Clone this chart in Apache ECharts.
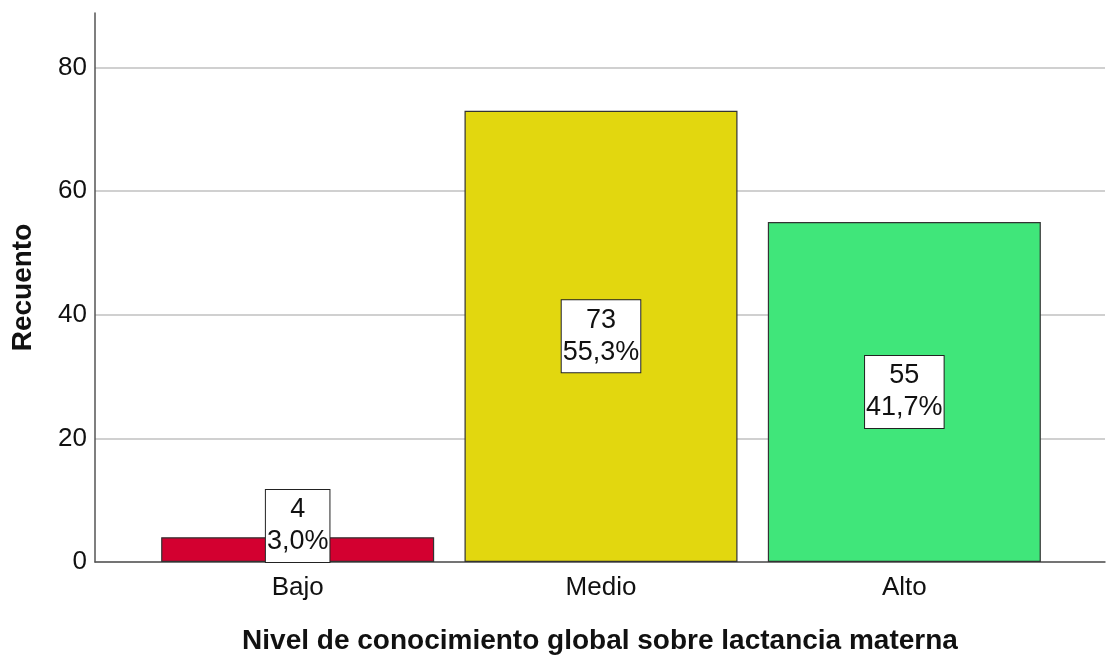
<!DOCTYPE html>
<html>
<head>
<meta charset="utf-8">
<script src="https://cdn.jsdelivr.net/npm/echarts@6/dist/echarts.min.js"></script>
<style>
  html, body { margin: 0; padding: 0; background: #ffffff; }
  #chart { width: 1108px; height: 659px; }
</style>
</head>
<body>
<div id="chart"></div>
<script>
// Nivel de conocimiento global sobre lactancia materna: frequency counts
const categories = ['Bajo', 'Medio', 'Alto'];
const counts = [4, 73, 55];
const percents = ['3,0%', '55,3%', '41,7%'];
const barColors = ['#D30030', '#E2D70F', '#40E67A'];
const yTicks = [0, 20, 40, 60, 80];

const FONT = '"Liberation Sans", Arial, sans-serif';
const Y_MAX = 88.8;
const GRID_TOP = 13;
const GRID_BOTTOM = 97;

const chart = echarts.init(document.getElementById('chart'), null, { renderer: 'canvas' });

const barData = counts.map((v, i) => {
  const item = {
    value: v,
    itemStyle: { color: barColors[i] }
  };
  // short bar: the label box sits on the baseline and rises above the bar
  if (v < 10) {
    item.label = { position: 'insideBottom', distance: 0 };
  }
  return item;
});

chart.setOption({
  animation: false,
  backgroundColor: '#ffffff',
  grid: [
    // frame grid: axis lines, gridlines, titles
    { left: 95, right: 3, top: GRID_TOP, bottom: GRID_BOTTOM, containLabel: false, outerBoundsMode: 'none' },
    // bar grid: categories spaced with outer margins
    { left: 146, right: 52, top: GRID_TOP, bottom: GRID_BOTTOM, containLabel: false, outerBoundsMode: 'none' }
  ],
  xAxis: [
    {
      gridIndex: 0,
      type: 'value',
      min: 0,
      max: 1,
      axisLine: { show: true, lineStyle: { color: '#555555', width: 1.5 } },
      axisTick: { show: false },
      axisLabel: { show: false },
      splitLine: { show: false },
      name: 'Nivel de conocimiento global sobre lactancia materna',
      nameLocation: 'middle',
      nameGap: 65,
      nameTextStyle: { fontFamily: FONT, fontSize: 28, fontWeight: 'bold', color: '#111111' }
    },
    {
      gridIndex: 1,
      type: 'category',
      data: categories,
      axisLine: { show: false },
      axisTick: { show: false },
      axisLabel: { fontFamily: FONT, fontSize: 26, color: '#111111', margin: 13 }
    }
  ],
  yAxis: [
    {
      gridIndex: 0,
      type: 'value',
      min: 0,
      max: Y_MAX,
      interval: 20,
      axisLine: { show: true, lineStyle: { color: '#555555', width: 1.5 } },
      axisTick: { show: false },
      axisLabel: {
        fontFamily: FONT, fontSize: 26, color: '#111111', margin: 8,
        showMaxLabel: false,
        formatter: v => (yTicks.indexOf(v) >= 0 ? String(v) : '')
      },
      splitLine: { show: true, showMaxLine: false, lineStyle: { color: '#D0D0D0', width: 2 } },
      name: 'Recuento',
      nameLocation: 'middle',
      nameGap: 58,
      nameTextStyle: { fontFamily: FONT, fontSize: 28, fontWeight: 'bold', color: '#111111' }
    },
    {
      gridIndex: 1,
      type: 'value',
      min: 0,
      max: Y_MAX,
      show: false,
      splitLine: { show: false }
    }
  ],
  series: [
    {
      type: 'bar',
      xAxisIndex: 1,
      yAxisIndex: 1,
      data: barData,
      barCategoryGap: '10%',
      itemStyle: { borderColor: '#333333', borderWidth: 1.2 },
      label: {
        show: true,
        position: 'inside',
        formatter: p => p.value + '\n' + percents[p.dataIndex],
        fontFamily: FONT,
        fontSize: 27,
        lineHeight: 32,
        color: '#111111',
        backgroundColor: '#ffffff',
        borderColor: '#222222',
        borderWidth: 1,
        padding: [4, 1, 4, 1]
      }
    }
  ]
});
</script>
</body>
</html>
